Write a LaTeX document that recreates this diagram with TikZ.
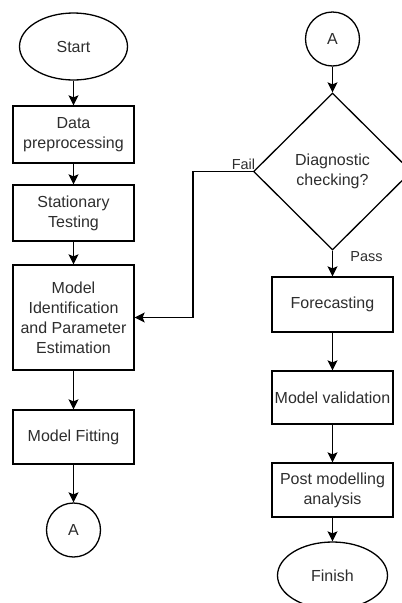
\documentclass[tikz,border=0pt]{standalone}
\usepackage{fontspec}
\setmainfont{Liberation Sans}
\usetikzlibrary{shapes.geometric,arrows.meta}
\definecolor{ink}{RGB}{45,45,45}
\begin{document}
\begin{tikzpicture}[x=1pt,y=-1pt,
  base/.style={draw=black,line width=1.3pt,text=ink,align=center,inner sep=0pt,
    font=\fontsize{16}{20}\selectfont},
  procbox/.style={base,rectangle,minimum width=121pt},
  terminal/.style={base,ellipse,minimum width=108pt,minimum height=67pt},
  connector/.style={base,circle,minimum size=54pt},
  decision/.style={base,diamond,minimum width=158pt,minimum height=157pt},
  flow/.style={draw=black,line width=1.3pt,-{Stealth[length=10pt,width=10pt,inset=2pt]}},
  edgelabel/.style={text=ink,inner sep=0pt,font=\fontsize{14.5}{17}\selectfont}]
\path[use as bounding box] (0,0) rectangle (402,603);
\clip (0,0) rectangle (402,603);

% left column
\node[terminal] (start) at (73.5,46.5) {Start};
\node[procbox,minimum height=57pt] (prep) at (73.5,134.5) {Data\\preprocessing};
\node[procbox,minimum height=56pt] (stat) at (73.5,213) {Stationary\\Testing};
\node[procbox,minimum height=105pt] (ident) at (73.5,317.5) {Model\\Identification\\and Parameter\\Estimation};
\node[procbox,minimum height=54pt] (fit) at (73.5,437) {Model Fitting};
\node[connector] (aout) at (73.5,530) {A};

% right column
\node[connector] (ain) at (332.5,39) {A};
\node[decision] (diag) at (332.5,171.5) {Diagnostic\\checking?};
\node[procbox,minimum height=55pt] (fore) at (332.5,304.5) {Forecasting};
\node[procbox,minimum height=53pt] (valid) at (332.5,397.5) {Model validation};
\node[procbox,minimum height=54pt] (post) at (332.5,490) {Post modelling\\analysis};
\node[terminal,minimum width=110pt] (finish) at (332.5,575.5) {Finish};

% connectors
\draw[flow] (start) -- (prep);
\draw[flow] (prep) -- (stat);
\draw[flow] (stat) -- (ident);
\draw[flow] (ident) -- (fit);
\draw[flow] (fit) -- (aout);
\draw[flow] (ain) -- (diag);
\draw[flow] (diag) -- (fore);
\draw[flow] (fore) -- (valid);
\draw[flow] (valid) -- (post);
\draw[flow] (post) -- (finish);
\coordinate (bend) at (193,171.5);
\draw[flow] (diag.west) -- (bend) |- (ident.east);

% branch labels
\node[edgelabel] (faillbl) at (243.5,164) {Fail};
\node[edgelabel] (passlbl) at (366.5,257) {Pass};
\end{tikzpicture}
\end{document}
